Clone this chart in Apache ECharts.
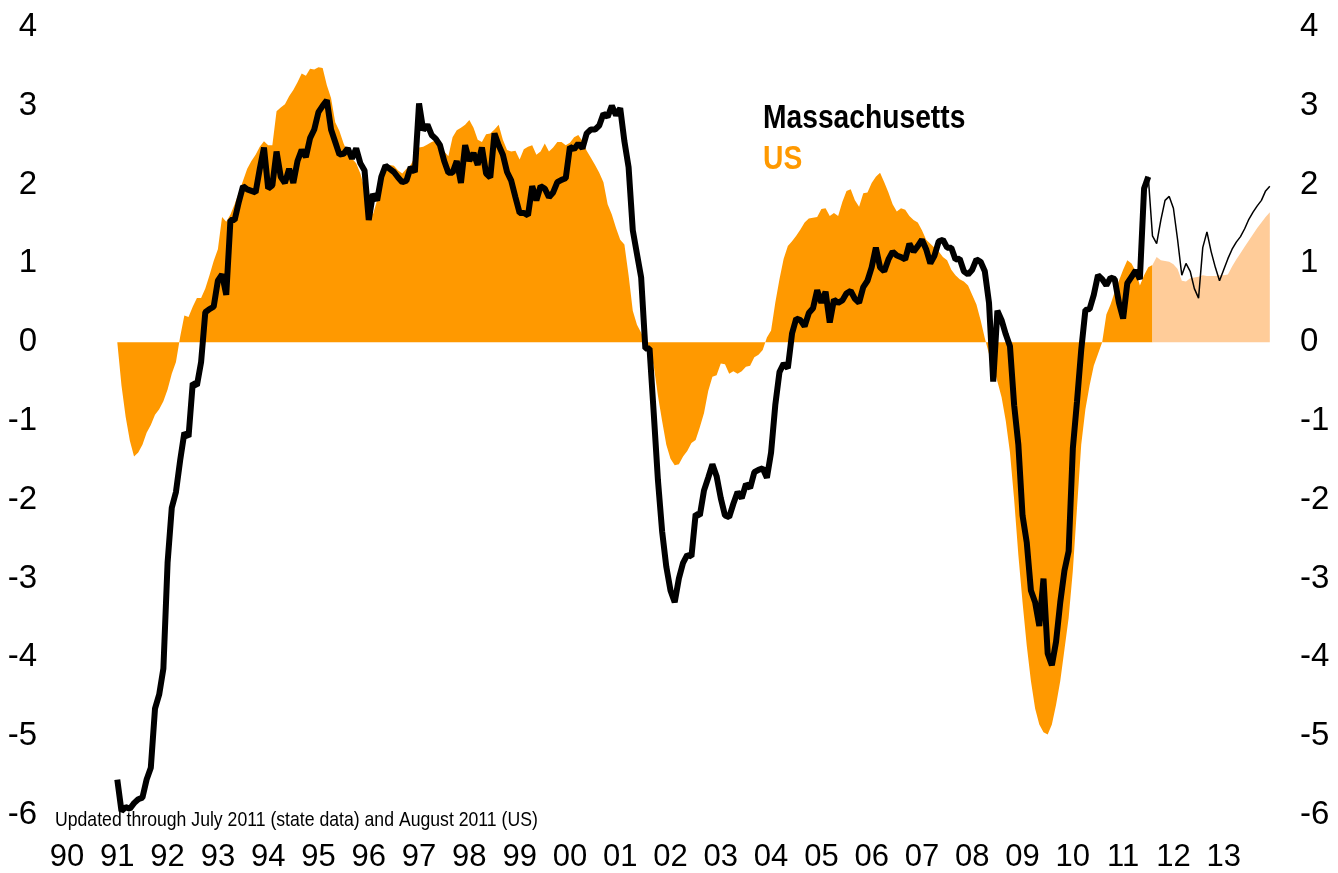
<!DOCTYPE html>
<html>
<head>
<meta charset="utf-8">
<title>Massachusetts vs US</title>
<script src="https://cdn.jsdelivr.net/npm/echarts@6/dist/echarts.min.js"></script>
<style>
  html, body { margin: 0; padding: 0; background: #fff; }
  #chart { width: 1338px; height: 873px; }
</style>
</head>
<body>
<div id="chart"></div>
<script>
// monthly values, first point = Jan 1991
var startYear = 1991

// US, Jan 1991 .. Aug 2011
var usHist = [
  0, -0.55, -0.95, -1.25, -1.45, -1.4, -1.3, -1.15, -1.05, -0.92, -0.85, -0.75,
  -0.6, -0.4, -0.25, 0.07, 0.34, 0.32, 0.45, 0.56, 0.56, 0.68, 0.85, 1.03,
  1.18, 1.59, 1.53, 1.62, 1.75, 1.9, 2.05, 2.2, 2.3, 2.38, 2.48, 2.55,
  2.5, 2.5, 2.93, 2.98, 3.02, 3.12, 3.2, 3.3, 3.41, 3.38, 3.47, 3.46,
  3.49, 3.48, 3.26, 3.1, 2.79, 2.68, 2.52, 2.4, 2.33, 2.27, 2.14, 1.95,
  1.75, 1.62, 1.8, 2.05, 2.25, 2.25, 2.24, 2.18, 2.14, 2.2, 2.25, 2.35,
  2.47, 2.48, 2.51, 2.54, 2.56, 2.48, 2.42, 2.36, 2.6, 2.69, 2.72, 2.76,
  2.82, 2.72, 2.57, 2.54, 2.64, 2.65, 2.7, 2.76, 2.57, 2.44, 2.42, 2.43,
  2.32, 2.45, 2.48, 2.5, 2.38, 2.42, 2.52, 2.42, 2.47, 2.54, 2.54, 2.5,
  2.53, 2.6, 2.63, 2.55, 2.43, 2.34, 2.25, 2.15, 2.03, 1.75, 1.62, 1.45,
  1.3, 1.24, 0.85, 0.4, 0.22, 0.12, 0, -0.1, -0.3, -0.68, -1.0, -1.3,
  -1.48, -1.56, -1.55, -1.45, -1.38, -1.28, -1.24, -1.08, -0.9, -0.62, -0.44, -0.42,
  -0.27, -0.28, -0.4, -0.37, -0.4, -0.37, -0.31, -0.3, -0.19, -0.16, -0.1, 0.06,
  0.15, 0.5, 0.8, 1.06, 1.22, 1.28, 1.35, 1.43, 1.52, 1.57, 1.58, 1.59,
  1.69, 1.7, 1.6, 1.64, 1.6, 1.78, 1.92, 1.94, 1.8, 1.72, 1.89, 1.9,
  2.02, 2.1, 2.15, 2.03, 1.9, 1.75, 1.66, 1.7, 1.68, 1.6, 1.55, 1.52,
  1.42, 1.3, 1.25, 1.2, 1.15, 1.08, 1.04, 0.92, 0.85, 0.8, 0.77, 0.72,
  0.6, 0.48, 0.28, 0.05, -0.15, -0.3, -0.5, -0.7, -1.0, -1.4, -2.0, -2.7,
  -3.3, -3.85, -4.3, -4.65, -4.85, -4.95, -4.98, -4.85, -4.6, -4.3, -3.9, -3.5,
  -2.9, -2.1, -1.3, -0.85, -0.55, -0.3, -0.15, 0, 0.35, 0.48, 0.64, 0.78,
  0.92, 1.04, 1.0, 0.9, 0.72, 0.85, 0.95, 0.98
]
// US forecast, Aug 2011 .. Dec 2013
var usForecast = [
  0.98, 1.08, 1.04, 1.03, 1.02, 0.99, 0.93, 0.78, 0.77, 0.81, 0.82, 0.83,
  0.85, 0.84, 0.84, 0.84, 0.85, 0.85, 0.86, 0.96, 1.05, 1.13, 1.21, 1.29,
  1.37, 1.45, 1.52, 1.59, 1.65
]

// Massachusetts, Jan 1991 .. Jul 2011
var maHist = [
  -5.55, -5.95, -5.9, -5.92, -5.85, -5.8, -5.78, -5.55, -5.4, -4.65, -4.47, -4.14,
  -2.8, -2.1, -1.9, -1.5, -1.15, -1.2, -0.52, -0.55, -0.25, 0.38, 0.42, 0.45,
  0.78, 0.86, 0.6, 1.55, 1.55, 1.78, 1.98, 1.94, 1.92, 1.9, 2.2, 2.47,
  1.95, 1.99, 2.42, 2.1, 2.02, 2.2, 2.02, 2.3, 2.44, 2.35, 2.59, 2.7,
  2.92, 3.0, 3.07, 2.7, 2.54, 2.38, 2.39, 2.46, 2.33, 2.46, 2.27, 2.18,
  1.55, 1.88, 1.8, 2.1, 2.24, 2.2, 2.16, 2.09, 2.03, 2.05, 2.22, 2.16,
  3.03, 2.69, 2.76, 2.63, 2.58, 2.5, 2.3, 2.15, 2.15, 2.3, 2.02, 2.5,
  2.3, 2.4, 2.25, 2.47, 2.14, 2.09, 2.65, 2.5, 2.38, 2.16, 2.05, 1.84,
  1.64, 1.64, 1.61, 1.98, 1.8, 1.98, 1.95, 1.84, 1.9, 2.03, 2.06, 2.08,
  2.48, 2.45, 2.52, 2.46, 2.65, 2.7, 2.7, 2.75, 2.9, 2.86, 3.0, 2.88,
  2.97, 2.55, 2.22, 1.42, 1.12, 0.82, -0.08, -0.08, -0.9, -1.75, -2.4, -2.85,
  -3.15, -3.3, -3.0, -2.8, -2.7, -2.72, -2.18, -2.2, -1.88, -1.72, -1.55, -1.7,
  -1.98, -2.2, -2.22, -2.05, -1.9, -1.98, -1.8, -1.85, -1.65, -1.62, -1.6, -1.72,
  -1.4, -0.8, -0.38, -0.27, -0.33, 0.11, 0.3, 0.28, 0.2, 0.37, 0.43, 0.66,
  0.5, 0.64, 0.25, 0.54, 0.5, 0.53, 0.62, 0.65, 0.55, 0.5, 0.7, 0.78,
  0.95, 1.2, 0.95, 0.9, 1.05, 1.15, 1.1, 1.08, 1.05, 1.25, 1.15, 1.22,
  1.3, 1.18, 1.0, 1.1, 1.28, 1.3, 1.2, 1.2, 1.05, 1.06, 0.9, 0.86,
  0.92, 1.05, 1.02, 0.9, 0.5, -0.5, 0.4, 0.28, 0.1, -0.05, -0.8, -1.3,
  -2.2, -2.54, -3.15, -3.3, -3.6, -3.0, -3.95, -4.1, -3.8, -3.3, -2.9, -2.65,
  -1.35, -0.75, -0.1, 0.41, 0.42, 0.6, 0.85, 0.8, 0.72, 0.82, 0.8, 0.5,
  0.3, 0.75, 0.83, 0.91, 0.8, 1.95, 2.1
]
// Massachusetts forecast, Jul 2011 .. Dec 2013
var maForecast = [
  2.1, 1.35, 1.25, 1.55, 1.8, 1.85, 1.7, 1.3, 0.85, 1.0, 0.9, 0.68,
  0.56, 1.2, 1.4, 1.15, 0.95, 0.78, 0.92, 1.06, 1.18, 1.27, 1.34, 1.44,
  1.56, 1.65, 1.73, 1.8, 1.92, 1.98
]

var FONT = '"Liberation Sans Narrow", "Arial Narrow", "Liberation Sans", Arial, sans-serif'
// the original uses a narrow face, squeeze free text to match
var NARROW = 0.83

function toPairs(arr, offset){
  return arr.map(function (v, i) {
    return [startYear + (offset + i) / 12, v]
  })
}

var chart = echarts.init(document.getElementById('chart'), null, {renderer: 'canvas'})

var yAxisBase = {
  type: 'value',
  min: -6,
  max: 4,
  interval: 1,
  axisLine: {show: false},
  axisTick: {show: false},
  splitLine: {show: false}
}

var option = {
  backgroundColor: '#fff',
  animation: false,
  grid: {left: 67, right: 64, top: 27, bottom: 58},
  xAxis: {
    type: 'value',
    min: 1990,
    max: 2014,
    interval: 1,
    axisLine: {show: false},
    axisTick: {show: false},
    splitLine: {show: false},
    axisLabel: {
      showMaxLabel: false,
      margin: 27,
      fontFamily: FONT,
      fontSize: 31,
      color: '#000',
      formatter: function (v) {
        var yy = v % 100
        return (yy < 10 ? '0' : '') + yy
      }
    }
  },
  yAxis: [
    Object.assign({}, yAxisBase, {
      position: 'left',
      axisLabel: {margin: 30, fontFamily: FONT, fontSize: 33, color: '#000'}
    }),
    Object.assign({}, yAxisBase, {
      position: 'right',
      axisLabel: {margin: 26, fontFamily: FONT, fontSize: 33, color: '#000'}
    })
  ],
  series: [
    {
      name: 'US',
      type: 'line',
      data: toPairs(usHist, 0),
      symbol: 'none',
      lineStyle: {width: 0},
      areaStyle: {color: '#FF9900', opacity: 1, origin: 0},
      z: 1
    },
    {
      name: 'US forecast',
      type: 'line',
      data: toPairs(usForecast, usHist.length - 1),
      symbol: 'none',
      lineStyle: {width: 0},
      areaStyle: {color: '#FFCC99', opacity: 1, origin: 0},
      z: 1
    },
    {
      name: 'Massachusetts',
      type: 'line',
      data: toPairs(maHist, 0),
      symbol: 'none',
      lineStyle: {color: '#000', width: 6},
      z: 3
    },
    {
      name: 'Massachusetts forecast',
      type: 'line',
      data: toPairs(maForecast, maHist.length - 1),
      symbol: 'none',
      lineStyle: {color: '#000', width: 1.5},
      z: 2
    }
  ],
  graphic: [
    {
      type: 'text', x: 763, y: 102, scaleX: NARROW,
      style: {text: 'Massachusetts', fill: '#000', font: 'bold 34px ' + FONT}
    },
    {
      type: 'text', x: 763, y: 143, scaleX: NARROW,
      style: {text: 'US', fill: '#FF9900', font: 'bold 34px ' + FONT}
    },
    {
      type: 'text', x: 55, y: 810, scaleX: 0.84,
      style: {text: 'Updated through July 2011 (state data) and August 2011 (US)', fill: '#000', font: '21px ' + FONT}
    }
  ]
}

chart.setOption(option)
</script>
</body>
</html>
